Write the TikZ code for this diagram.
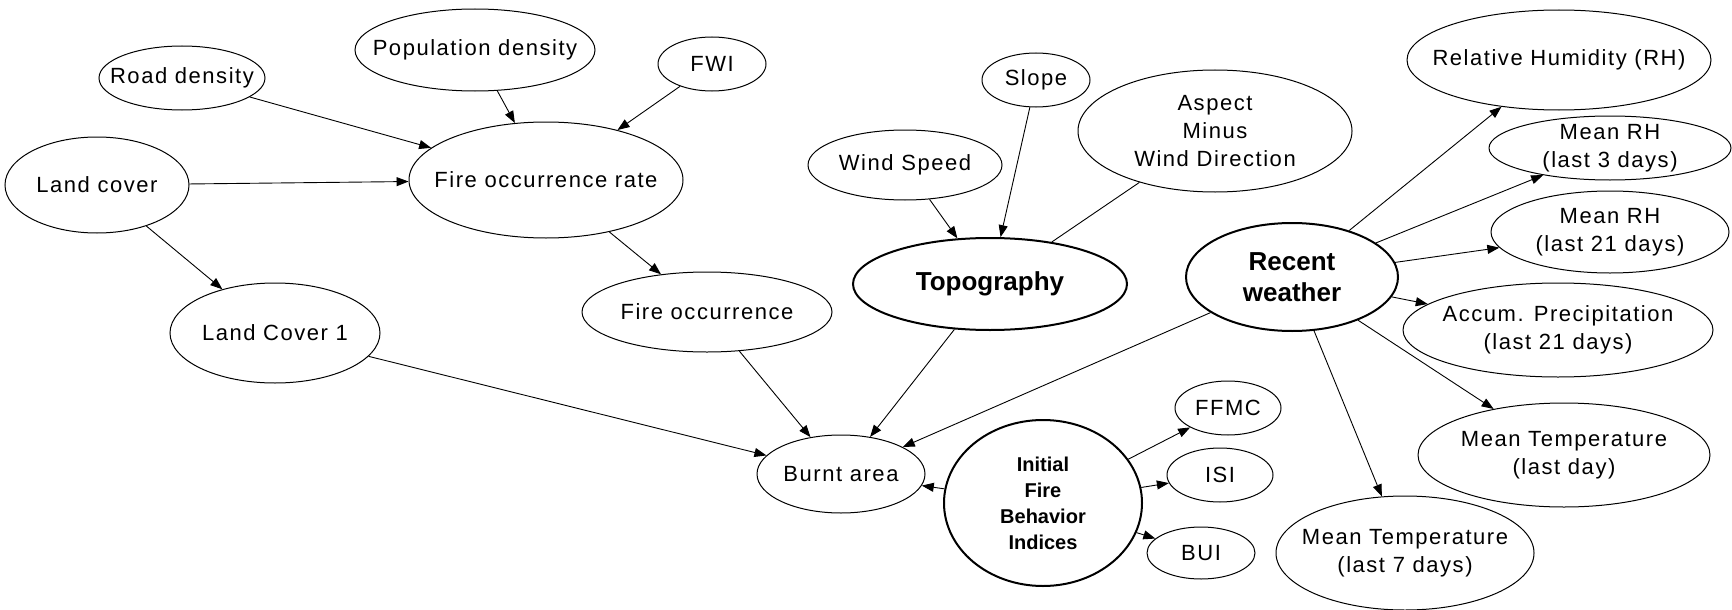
\documentclass[tikz,border=0pt]{standalone}
\usepackage{fontspec}
\usetikzlibrary{shapes.geometric,arrows.meta}
\newfontfamily\regfont[LetterSpace=7]{Liberation Sans}
\newfontfamily\headfont{Liberation Sans}
\begin{document}
\begin{tikzpicture}[x=1pt,y=-1pt,
  txt/.style={font=\regfont\fontsize{22}{28}\selectfont, align=center, inner sep=0pt},
  bigtxt/.style={font=\headfont\bfseries\fontsize{26}{31}\selectfont, align=center, inner sep=0pt},
  smalltxt/.style={font=\headfont\bfseries\fontsize{20}{26}\selectfont, align=center, inner sep=0pt},
  sz/.style 2 args={minimum width={2*#1}, minimum height={2*#2}},
  var/.style={ellipse, draw, line width=1pt, inner sep=0pt},
  hub/.style={ellipse, draw, line width=2pt, inner sep=0pt},
  link/.style={line width=0.9pt, -{Triangle[length=12pt,width=9pt]}},
  plain/.style={line width=0.9pt},
]
\useasboundingbox (0,0) rectangle (1732,610);

% fire occurrence part
\node[var, sz={83}{32}, label={[txt]center:Road density}] (road) at (182,78) {};
\node[var, sz={120}{41}, label={[txt]center:Population density}] (pop) at (475,50) {};
\node[var, sz={54}{27}, label={[txt]center:FWI}] (fwi) at (712,64) {};
\node[var, sz={92}{48}, label={[txt]center:Land cover}] (land) at (97,185) {};
\node[var, sz={137}{58}, label={[txt]center:Fire occurrence rate}] (rate) at (546,180) {};
\node[var, sz={125}{40}, label={[txt]center:Fire occurrence}] (occ) at (707,312) {};
\node[var, sz={105}{50}, label={[txt]center:Land Cover 1}] (lc1) at (275,333) {};
\node[var, sz={84}{39}, label={[txt]center:Burnt area}] (burnt) at (841,474) {};

% topography
\node[var, sz={97}{35}, label={[txt]center:Wind Speed}] (wind) at (905,165) {};
\node[var, sz={54}{27}, label={[txt]center:Slope}] (slope) at (1036,80) {};
\node[var, sz={137}{61}, label={[txt]center:Aspect\\Minus\\Wind Direction}] (aspect) at (1215,131) {};
\node[hub, sz={137}{46}, label={[bigtxt]center:Topography}] (topo) at (990,284) {};

% weather
\node[hub, sz={106}{54}, label={[bigtxt]center:Recent\\weather}] (weather) at (1292,277) {};
\node[var, sz={152}{50}, label={[txt]center:Relative Humidity (RH)}] (rh) at (1559,60) {};
\node[var, sz={121}{32}, label={[txt]center:Mean RH\\(last 3 days)}] (rh3) at (1610,148) {};
\node[var, sz={119}{41}, label={[txt]center:Mean RH\\(last 21 days)}] (rh21) at (1610,232) {};
\node[var, sz={155}{47}, label={[txt]center:Accum. Precipitation\\(last 21 days)}] (precip) at (1558,330) {};
\node[var, sz={146}{52}, label={[txt]center:Mean Temperature\\(last day)}] (tday) at (1564,455) {};
\node[var, sz={129}{57}, label={[txt]center:Mean Temperature\\(last 7 days)}] (t7) at (1405,553) {};

% fire behaviour indices
\node[hub, sz={99}{83}, label={[smalltxt]center:Initial\\Fire\\Behavior\\Indices}] (ifbi) at (1043,503) {};
\node[var, sz={53}{27}, label={[txt]center:FFMC}] (ffmc) at (1228,408) {};
\node[var, sz={53}{27}, label={[txt]center:ISI}] (isi) at (1220,475) {};
\node[var, sz={54}{26}, label={[txt]center:BUI}] (bui) at (1201,553) {};

% connectors
\draw[link] (road) -- (rate);
\draw[link] (pop) -- (rate);
\draw[link] (fwi) -- (rate);
\draw[link] (land) -- (rate);
\draw[link] (land) -- (lc1);
\draw[link] (rate) -- (occ);
\draw[link] (lc1) -- (burnt);
\draw[link] (occ) -- (burnt);
\draw[link] (topo) -- (burnt);
\draw[link] (weather) -- (burnt);
\draw[link] (ifbi) -- (burnt);

\draw[link] (wind) -- (topo);
\draw[link] (slope) -- (topo);
\draw[plain] (aspect) -- (topo);

\draw[link] (weather) -- (rh);
\draw[link] (weather) -- (rh3);
\draw[link] (weather) -- (rh21);
\draw[link] (weather) -- (precip);
\draw[link] (weather) -- (tday);
\draw[link] (weather) -- (t7);

\draw[link] (ifbi) -- (ffmc);
\draw[link] (ifbi) -- (isi);
\draw[link] (ifbi) -- (bui);
\end{tikzpicture}
\end{document}
